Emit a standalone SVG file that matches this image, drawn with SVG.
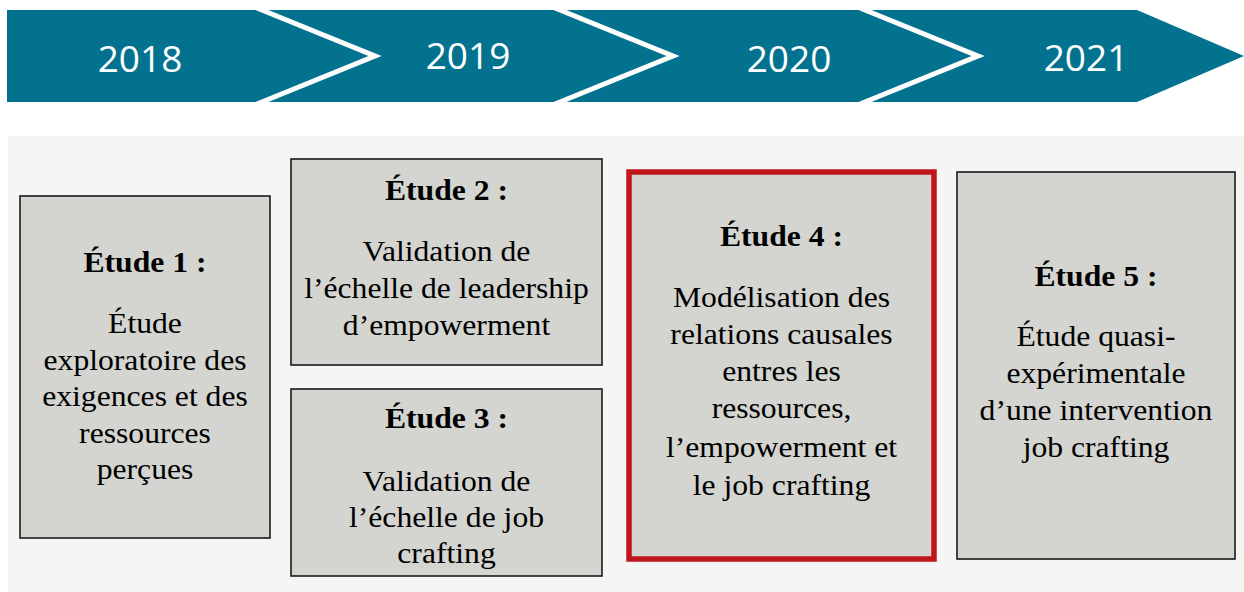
<svg xmlns="http://www.w3.org/2000/svg" width="1244" height="592" viewBox="0 0 1244 592">
<style>
.yr{font-family:"Open Sans","Liberation Sans",sans-serif;font-size:37px;fill:#fff;text-anchor:middle}
.box{fill:#D4D4D0;stroke:#1a1a1a;stroke-width:1.6}
.t{font-family:"Liberation Serif","Times New Roman",serif;font-size:30px;fill:#000;text-anchor:middle}
.b{font-weight:bold}
.chev{fill:none;stroke:#fff;stroke-width:5}
</style>
<rect width="1244" height="592" fill="#fff"/>
<g id="timeline">
<polygon points="7,10 1137,10 1244,56 1137,102 7,102" fill="#02728F"/>
<polyline class="chev" points="257,8 375,56 257,104"/>
<polyline class="chev" points="555,8 673,56 555,104"/>
<polyline class="chev" points="860,8 978,56 860,104"/>
<text class="yr" x="140" y="72">2018</text>
<text class="yr" x="468" y="69">2019</text>
<text class="yr" x="789" y="72">2020</text>
<text class="yr" x="1086" y="71">2021</text>
</g>
<rect x="8" y="136" width="1236" height="456" fill="#F5F5F5"/>
<g id="etude1">
<rect class="box" x="20" y="196" width="250" height="342"/>
<g transform="translate(145,0) scale(1.055,1)">
<text class="t b" x="0" y="272">Étude 1 :</text>
<text class="t" x="0" y="333">Étude</text>
<text class="t" x="0" y="370">exploratoire des</text>
<text class="t" x="0" y="406">exigences et des</text>
<text class="t" x="0" y="443">ressources</text>
<text class="t" x="0" y="479">perçues</text>
</g>
</g>
<g id="etude2">
<rect class="box" x="291" y="159" width="311" height="206"/>
<g transform="translate(446.5,0) scale(1.055,1)">
<text class="t b" x="0" y="200">Étude 2 :</text>
<text class="t" x="0" y="261">Validation de</text>
<text class="t" x="0" y="298">l’échelle de leadership</text>
<text class="t" x="0" y="335">d’empowerment</text>
</g>
</g>
<g id="etude3">
<rect class="box" x="291" y="389" width="311" height="187"/>
<g transform="translate(446.5,0) scale(1.055,1)">
<text class="t b" x="0" y="428">Étude 3 :</text>
<text class="t" x="0" y="491">Validation de</text>
<text class="t" x="0" y="527">l’échelle de job</text>
<text class="t" x="0" y="563">crafting</text>
</g>
</g>
<g id="etude4">
<rect x="629" y="172" width="305" height="387" fill="#D4D4D0" stroke="#C0161B" stroke-width="5.5"/>
<g transform="translate(781.5,0) scale(1.055,1)">
<text class="t b" x="0" y="246">Étude 4 :</text>
<text class="t" x="0" y="307">Modélisation des</text>
<text class="t" x="0" y="344">relations causales</text>
<text class="t" x="0" y="381">entres les</text>
<text class="t" x="0" y="418">ressources,</text>
<text class="t" x="0" y="457">l’empowerment et</text>
<text class="t" x="0" y="495">le job crafting</text>
</g>
</g>
<g id="etude5">
<rect class="box" x="957" y="172" width="278" height="387"/>
<g transform="translate(1096,0) scale(1.055,1)">
<text class="t b" x="0" y="286">Étude 5 :</text>
<text class="t" x="0" y="346">Étude quasi-</text>
<text class="t" x="0" y="383">expérimentale</text>
<text class="t" x="0" y="420">d’une intervention</text>
<text class="t" x="0" y="457">job crafting</text>
</g>
</g>
<g id="connectors"></g>
</svg>
